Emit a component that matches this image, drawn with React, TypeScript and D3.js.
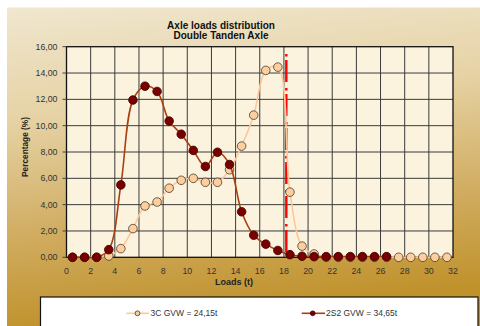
import React from "react";
import * as d3 from "d3";

const loads = [0.5,1.5,2.5,3.5,4.5,5.5,6.5,7.5,8.5,9.5,10.5,11.5,12.5,13.5,14.5,15.5,16.5,17.5,18.5,19.5,20.5,21.5,22.5,23.5,24.5,25.5,26.5,27.5,28.5,29.5,30.5,31.5];
const series3C = [0,0,0,0.1,0.66,2.18,3.9,4.2,5.25,5.85,6.0,5.7,5.7,6.65,8.45,10.8,14.2,14.45,4.95,0.85,0.25,0,0,0,0,0,0,0,0,0,0,0];
const series2S2 = [0,0,0,0.58,5.5,11.95,13.0,12.6,10.35,9.35,8.12,6.9,7.98,7.05,3.46,1.68,1.0,0.52,0.2,0.08,0.05,0.05,0.05,0.05,0.05,0.05,0.05];
const xTicks = [0,2,4,6,8,10,12,14,16,18,20,22,24,26,28,30,32];
const yTicks = [0,2,4,6,8,10,12,14,16];
const legendLabels = ["3C GVW = 24,15t", "2S2 GVW = 34,65t"];
const limitLoad = 18.2;
const limitTop = 15.45;
const titleLines = ["Axle loads distribution", "Double Tanden Axle"];

const FONT = "'Liberation Sans', Arial, sans-serif";

export default function App() {
  const W = 480, H = 326;
  const x0 = 66.5, x1 = 453, y0 = 257.3, y1 = 46.7;
  const x = d3.scaleLinear().domain([0, 32]).range([x0, x1]);
  const y = d3.scaleLinear().domain([0, 16]).range([y0, y1]);
  const line = d3.line<[number, number]>().x(d => x(d[0])).y(d => y(d[1])).curve(d3.curveCatmullRom.alpha(0.5));
  const d3C = series3C.map((v, i) => [loads[i], v] as [number, number]);
  const d2S2 = series2S2.map((v, i) => [loads[i], v] as [number, number]);
  const fmt = (v: number) => v.toFixed(2).replace(".", ",");

  return (
    <svg width={W} height={H} style={{ position: "absolute", left: 0, top: 0, display: "block" }} fontFamily={FONT}>
      <defs>
        <linearGradient id="bg" x1="0" y1="0" x2="0.15" y2="1">
          <stop offset="0" stopColor="#f0e7cf" />
          <stop offset="0.35" stopColor="#e6d2a4" />
          <stop offset="0.7" stopColor="#d1ad62" />
          <stop offset="1" stopColor="#c0922c" />
        </linearGradient>
      </defs>
      <rect x={0} y={0} width={W} height={H} fill="#ffffff" />
      <rect x={7} y={7.5} width={W - 7} height={H - 7.5} fill="url(#bg)" />
      <rect x={x0} y={y1} width={x1 - x0} height={y0 - y1} fill="#fcf3de" />
      {xTicks.slice(1, -1).map(t => (
        <line key={"gx" + t} x1={x(t)} x2={x(t)} y1={y1} y2={y0} stroke="#3a3a3a" strokeWidth={1} />
      ))}
      {yTicks.slice(1, -1).map(t => (
        <line key={"gy" + t} x1={x0} x2={x1} y1={y(t)} y2={y(t)} stroke="#3a3a3a" strokeWidth={1} />
      ))}
      <rect x={x0} y={y1} width={x1 - x0} height={y0 - y1} fill="none" stroke="#111" strokeWidth={1.3} />
      {yTicks.map(t => (
        <g key={"yt" + t}>
          <line x1={x0 - 4} x2={x0} y1={y(t)} y2={y(t)} stroke="#444" strokeWidth={1} />
          <text x={57.5} y={y(t)} dy="0.35em" textAnchor="end" fontSize={8.8} fill="#333">{fmt(t)}</text>
        </g>
      ))}
      {xTicks.map(t => (
        <text key={"xt" + t} x={x(t)} y={274} textAnchor="middle" fontSize={8.8} fill="#333">{t}</text>
      ))}
      <text x={234} y={285} textAnchor="middle" fontSize={9} fontWeight="bold" fill="#222">Loads (t)</text>
      <text transform={`translate(28,147) rotate(-90)`} textAnchor="middle" fontSize={8.3} fontWeight="bold" fill="#222">Percentage (%)</text>
      {titleLines.map((t, i) => (
        <text key={t} x={221} y={28.8 + i * 10.6} textAnchor="middle" fontSize={10} fontWeight="bold" fill="#111">{t}</text>
      ))}
      <line x1={x(limitLoad)} x2={x(limitLoad)} y1={y(limitTop)} y2={y(0)} stroke="#ff0000" strokeWidth={2.4} strokeDasharray="2.5,3.5,22,6" />
      <path d={line(d3C) || ""} fill="none" stroke="#fcc899" strokeWidth={1.6} />
      {d3C.map((d, i) => (
        <circle key={"a" + i} cx={x(d[0])} cy={y(d[1])} r={4.3} fill="#fdcf9f" stroke="#4a3a2a" strokeWidth={0.8} />
      ))}
      <path d={line(d2S2) || ""} fill="none" stroke="#a8400f" strokeWidth={1.6} />
      {d2S2.map((d, i) => (
        <circle key={"b" + i} cx={x(d[0])} cy={y(d[1])} r={4.3} fill="#7a0000" stroke="#3a0000" strokeWidth={0.8} />
      ))}
      <rect x={40.5} y={297} width={437.5} height={40} fill="#ffffff" stroke="#111" strokeWidth={1.2} />
      <line x1={126.5} x2={149} y1={313.3} y2={313.3} stroke="#fcc899" strokeWidth={1.6} />
      <circle cx={137.5} cy={313.3} r={2.4} fill="#fdcf9f" stroke="#333" strokeWidth={0.8} />
      <text x={150.5} y={316.3} fontSize={8.5} fill="#333">{legendLabels[0]}</text>
      <line x1={301.7} x2={325} y1={313.3} y2={313.3} stroke="#a8400f" strokeWidth={1.6} />
      <circle cx={312.7} cy={313.3} r={2.4} fill="#7a0000" stroke="#3a0000" strokeWidth={0.8} />
      <text x={326} y={316.3} fontSize={8.5} fill="#333">{legendLabels[1]}</text>
    </svg>
  );
}
